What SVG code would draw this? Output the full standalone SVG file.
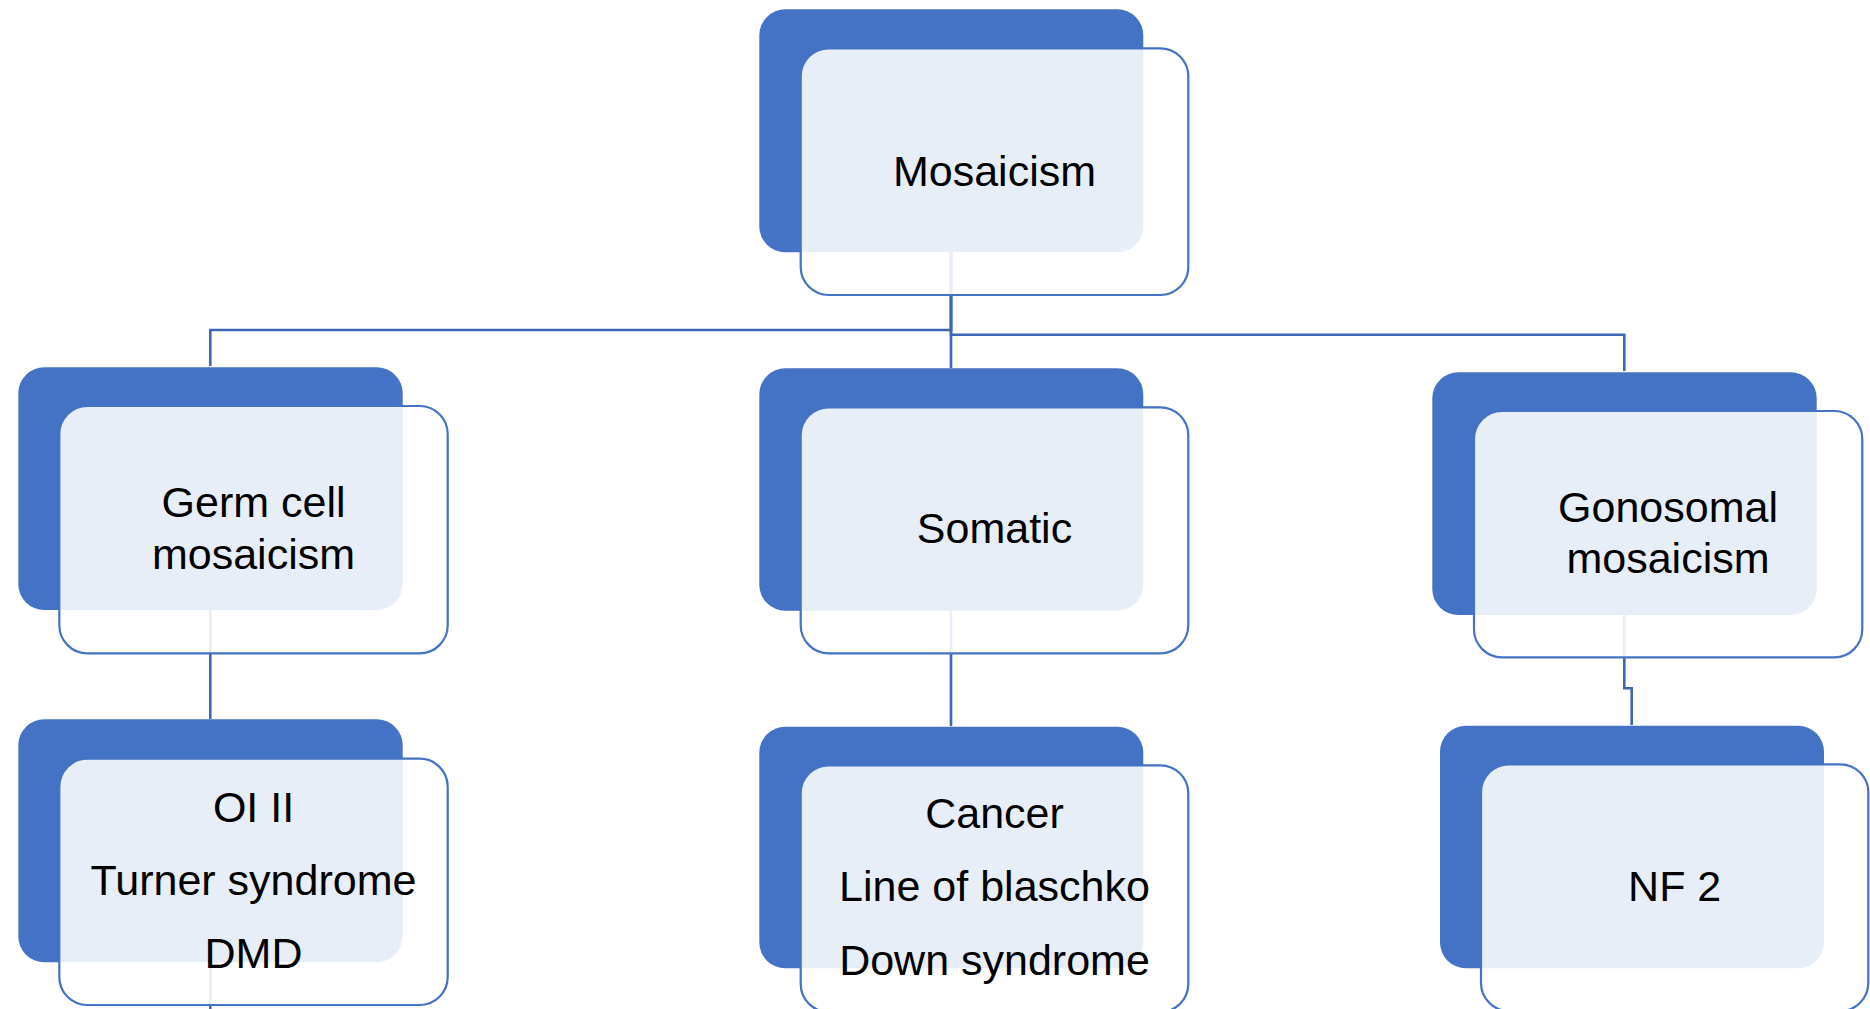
<svg xmlns="http://www.w3.org/2000/svg" width="1870" height="1009" viewBox="0 0 1870 1009">
<style>
.back{fill:#4472C4;}
.front{fill:#FFFFFF;fill-opacity:0.88;stroke:#4472C4;stroke-width:2.2;}
.conn{fill:none;stroke:#3D66B4;stroke-width:2.6;}
text{font-family:"Liberation Sans",Arial,sans-serif;font-size:43px;fill:#000;text-anchor:middle;}
</style>
<rect width="1870" height="1009" fill="#FFFFFF"/>
<g id="connectors">
<path class="conn" d="M951,250 V330 H210.3 V366"/>
<path class="conn" d="M951,250 V368"/>
<path class="conn" d="M951,250 V334.7 H1624.3 V371"/>
<path class="conn" d="M210.3,608 V719"/>
<path class="conn" d="M951,608 V726"/>
<path class="conn" d="M1624.3,613 V688.3 H1631.7 V725"/>
<path class="conn" d="M210.3,960 V1009"/>
</g>
<g id="node-mosaicism">
<rect class="back" x="759.3" y="9.3" width="384" height="243" rx="26"/>
<rect class="front" x="800.7" y="48.3" width="387.6" height="246.7" rx="28"/>
<text x="994.5" y="185.7">Mosaicism</text>
</g>
<g id="node-germ">
<rect class="back" x="18.3" y="367.3" width="384.4" height="242.7" rx="26"/>
<rect class="front" x="59.3" y="406" width="388.4" height="247.3" rx="28"/>
<text x="253.5" y="516.7">Germ cell</text>
<text x="253.5" y="569">mosaicism</text>
</g>
<g id="node-somatic">
<rect class="back" x="759.3" y="368.3" width="384" height="242.4" rx="26"/>
<rect class="front" x="800.7" y="407.3" width="387.6" height="246" rx="28"/>
<text x="994.5" y="543.3">Somatic</text>
</g>
<g id="node-gonosomal">
<rect class="back" x="1432.3" y="372.3" width="384.4" height="242.7" rx="26"/>
<rect class="front" x="1474" y="411" width="388.3" height="246.3" rx="28"/>
<text x="1668" y="521.7">Gonosomal</text>
<text x="1668" y="573.3">mosaicism</text>
</g>
<g id="node-germ-examples">
<rect class="back" x="18.3" y="719.3" width="384.4" height="243" rx="26"/>
<rect class="front" x="59.3" y="758.7" width="388.4" height="246.3" rx="28"/>
<text x="253.5" y="822.3">OI II</text>
<text x="253.5" y="895">Turner syndrome</text>
<text x="253.5" y="968.3">DMD</text>
</g>
<g id="node-somatic-examples">
<rect class="back" x="759.3" y="726.7" width="384" height="241.6" rx="26"/>
<rect class="front" x="800.7" y="765.3" width="387.6" height="246.7" rx="28"/>
<text x="994.5" y="828.3">Cancer</text>
<text x="994.5" y="901">Line of blaschko</text>
<text x="994.5" y="975">Down syndrome</text>
</g>
<g id="node-gonosomal-examples">
<rect class="back" x="1440" y="725.7" width="384" height="242.6" rx="26"/>
<rect class="front" x="1481" y="764.3" width="387.3" height="246.7" rx="28"/>
<text x="1674.7" y="901">NF 2</text>
</g>
</svg>
